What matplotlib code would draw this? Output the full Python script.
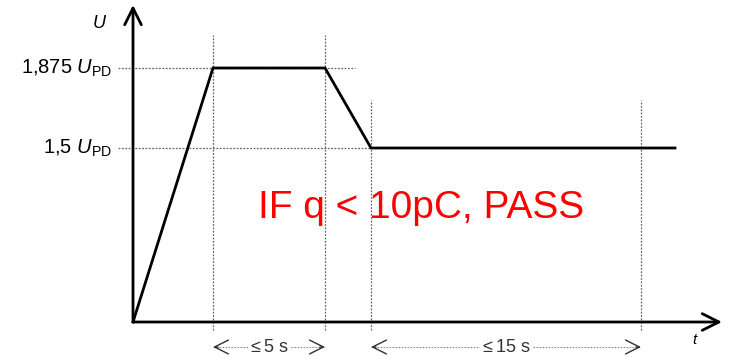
import matplotlib.pyplot as plt

plt.rcParams['font.family'] = ['Liberation Sans', 'DejaVu Sans']
plt.rcParams['mathtext.fontset'] = 'custom'
plt.rcParams['mathtext.rm'] = 'Liberation Sans'
plt.rcParams['mathtext.it'] = 'Liberation Sans:italic'

# test profile (drawing units, not to scale like the original sketch)
t_pts = [0, 80, 192, 238, 542]
u_pts = [0, 254, 254, 174, 174]
level_labels = [r'1,875 $U_{\rm PD}$', r'1,5 $U_{\rm PD}$']
levels = [254, 174]
t_marks = [80, 192, 238, 508]
spans = [(80, 192, r'$\leq$5 s'), (238, 508, r'$\leq$15 s')]
note = 'IF q < 10pC, PASS'

fig = plt.figure(figsize=(7.29, 3.61), dpi=100)
ax = fig.add_axes([0, 0, 1, 1])
ax.set_xlim(-133, 596)
ax.set_ylim(-39, 322)
ax.axis('off')

grid = dict(color='#666666', lw=0.9, ls=(0, (1.5, 1.2)))

# vertical guide lines
ax.plot([t_marks[0]] * 2, [-8, 287], **grid)
ax.plot([t_marks[1]] * 2, [-8, 287], **grid)
ax.plot([t_marks[2]] * 2, [-8, 222], **grid)
ax.plot([t_marks[3]] * 2, [-8, 222], **grid)

# horizontal guide lines
ax.plot([-15, 222], [levels[0]] * 2, **grid)
ax.plot([-15, t_marks[2]], [levels[1]] * 2, **grid)

# axes with arrows
ax.annotate('', xy=(0, 317), xytext=(0, 0),
            arrowprops=dict(arrowstyle='->', lw=2, color='black',
                            mutation_scale=30, shrinkA=0, shrinkB=0))
ax.annotate('', xy=(589, 0), xytext=(0, 0),
            arrowprops=dict(arrowstyle='->', lw=2, color='black',
                            mutation_scale=30, shrinkA=0, shrinkB=0))

# voltage profile
ax.plot(t_pts, u_pts, color='black', lw=2, solid_joinstyle='miter')

ax.text(-33, 299, r'$U$', fontsize=13, ha='center', va='center')
ax.text(562, -18, r'$t$', fontsize=11, ha='center', va='center')
for lab, lv in zip(level_labels, levels):
    ax.text(-21, lv, lab, fontsize=14.5, ha='right', va='center')

# duration spans
for a, b, lab in spans:
    ax.plot([a, b], [-25, -25], color='#888888', lw=0.8, ls=(0, (1.5, 1.2)))
    for p, q in [(a + 5, a), (b - 5, b)]:
        ax.annotate('', xy=(q, -25), xytext=(p, -25),
                    arrowprops=dict(arrowstyle='->', lw=1, color='#333333',
                                    mutation_scale=25, shrinkA=0, shrinkB=0))
    ax.text((a + b) / 2, -25, lab, fontsize=13, color='#333333',
            ha='center', va='center',
            bbox=dict(facecolor='white', edgecolor='none', pad=0.5))

ax.text(288, 114, note, fontsize=28, color='red', ha='center', va='center')

fig.savefig('out.png', dpi=100)
